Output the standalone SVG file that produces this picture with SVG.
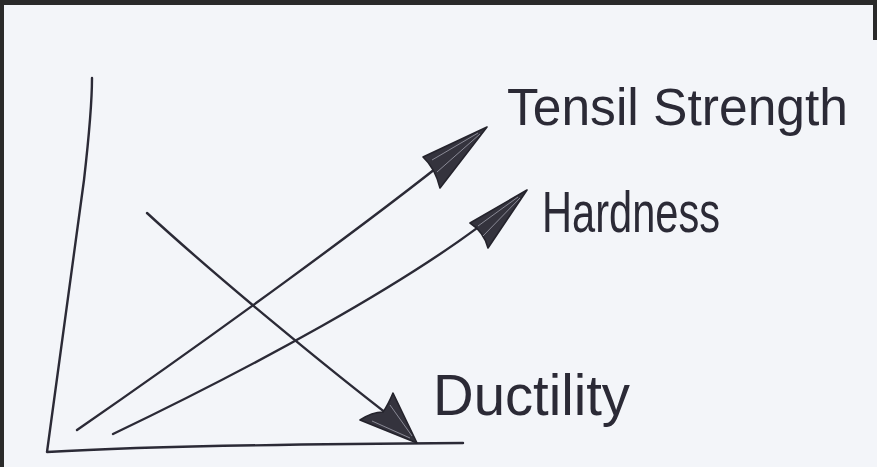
<svg xmlns="http://www.w3.org/2000/svg" width="877" height="467" viewBox="0 0 877 467">
  <style>
    .ink { fill: none; stroke: #2b2a36; stroke-width: 2.4; stroke-linecap: round; stroke-linejoin: round; }
    .head { fill: #34333d; stroke: #24232c; stroke-width: 1.6; stroke-linejoin: round; }
    .hatch { fill: none; stroke: #8a8a96; stroke-width: 1; }
    .label { font-family: "Liberation Sans", Arial, sans-serif; font-size: 58px; fill: #2b2a36; }
    .label.wide { font-size: 51px; }
  </style>
  <rect x="0" y="0" width="877" height="467" fill="#f3f5f9"/>
  <g id="frame" fill="#2a2a2a">
    <rect x="0" y="0" width="877" height="5"/>
    <rect x="0" y="0" width="4" height="467"/>
    <rect x="873" y="0" width="4" height="40"/>
  </g>
  <g id="axes">
    <path class="ink" d="M92,78 Q92,110 84,180 L47,452 C150,446 300,444 463,443"/>
  </g>
  <g id="connectors">
    <g id="arrow-tensil">
      <path class="ink" d="M77,430 C200,345 380,215 475,137"/>
      <path class="head" d="M487,127 L423,157 Q435,168 440,188 Z"/>
      <path class="hatch" d="M432,160 L478,133 M437,172 L480,134"/>
    </g>
    <g id="arrow-hardness">
      <path class="ink" d="M113,434 C230,378 420,280 515,198"/>
      <path class="head" d="M527,190 L470,223 Q484,232 488,248 Z"/>
      <path class="hatch" d="M478,226 L518,197 M483,236 L520,198"/>
    </g>
    <g id="arrow-ductility">
      <path class="ink" d="M147,213 C220,280 330,370 395,420"/>
      <path class="head" d="M417,443 L393,393 Q388,405 383,412 Q372,412 360,420 Z"/>
      <path class="hatch" d="M372,421 L410,438 M390,405 L412,436"/>
    </g>
  </g>
  <g id="label-tensil-strength">
    <text class="label wide" x="507" y="125" textLength="341" lengthAdjust="spacingAndGlyphs">Tensil Strength</text>
  </g>
  <g id="label-hardness">
    <text class="label" x="542" y="232" textLength="178" lengthAdjust="spacingAndGlyphs">Hardness</text>
  </g>
  <g id="label-ductility">
    <text class="label" x="433" y="415" textLength="197" lengthAdjust="spacingAndGlyphs">Ductility</text>
  </g>
</svg>
